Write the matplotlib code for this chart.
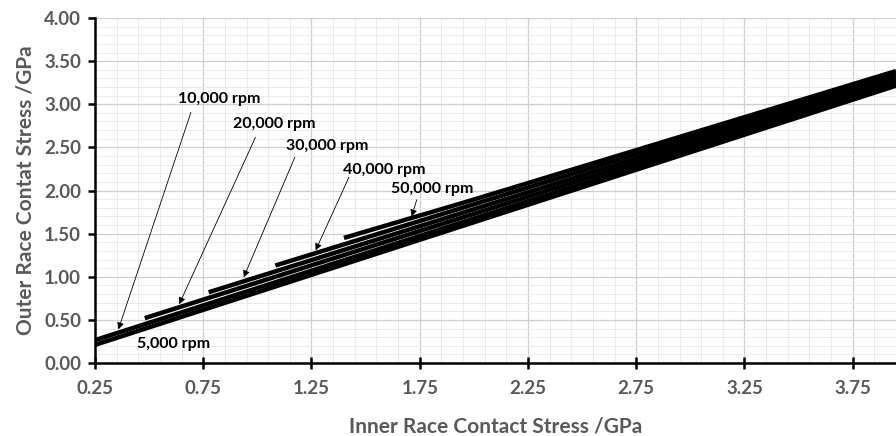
import matplotlib
matplotlib.use("Agg")
import matplotlib.pyplot as plt
from matplotlib.ticker import MultipleLocator, FormatStrFormatter

# Outer vs inner race contact stress (GPa) at several shaft speeds
speeds = ["5,000 rpm", "10,000 rpm", "20,000 rpm", "30,000 rpm", "40,000 rpm", "50,000 rpm"]
inner_5k = [0.25, 3.95]
outer_5k = [0.21, 3.215]
inner_10k = [0.25, 3.95]
outer_10k = [0.265, 3.245]
inner_20k = [0.48, 3.95]
outer_20k = [0.52, 3.28]
inner_30k = [0.775, 3.95]
outer_30k = [0.82, 3.315]
inner_40k = [1.083, 3.95]
outer_40k = [1.13, 3.35]
inner_50k = [1.40, 1.98, 3.95]
outer_50k = [1.45, 1.88, 3.385]

series = [(inner_5k, outer_5k), (inner_10k, outer_10k), (inner_20k, outer_20k),
          (inner_30k, outer_30k), (inner_40k, outer_40k), (inner_50k, outer_50k)]

# label text position, arrow tail, arrow head (data coordinates)
label_pos = [(0.611, 0.22), (0.824, 3.064), (1.079, 2.775), (1.324, 2.52), (1.588, 2.243), (1.806, 2.012)]
arrow_tail = [None, (0.693, 2.905), (0.991, 2.616), (1.173, 2.385), (1.423, 2.154), (1.736, 1.892)]
arrow_head = [None, (0.358, 0.39), (0.639, 0.682), (0.937, 0.994), (1.269, 1.306), (1.713, 1.699)]

x_ticks_major = [0.25, 0.75, 1.25, 1.75, 2.25, 2.75, 3.25, 3.75]

plt.rcParams['font.family'] = ['Lato', 'DejaVu Sans']

fig = plt.figure(figsize=(8.96, 4.36), dpi=100)
ax = fig.add_axes([95 / 896, 1 - 363 / 436, 1 - 95 / 896, (363 - 18) / 436])

for xs, ys in series:
    ax.plot(xs, ys, color='black', lw=3.2, solid_capstyle='butt', zorder=3)

ax.set_xlim(0.25, 3.95)
ax.set_ylim(0, 4.0)
ax.set_xticks(x_ticks_major)
ax.xaxis.set_minor_locator(MultipleLocator(0.1, offset=0.05))
ax.yaxis.set_major_locator(MultipleLocator(0.5))
ax.yaxis.set_minor_locator(MultipleLocator(0.1))
ax.xaxis.set_major_formatter(FormatStrFormatter('%.2f'))
ax.yaxis.set_major_formatter(FormatStrFormatter('%.2f'))

ax.grid(which='major', color='#cfcfcf', lw=0.9, zorder=0)
ax.grid(which='minor', color='#ebebeb', lw=0.7, zorder=0)
ax.set_axisbelow(True)

for s in ['top', 'right']:
    ax.spines[s].set_visible(False)
for s in ['left', 'bottom']:
    ax.spines[s].set_linewidth(1.8)
    ax.spines[s].set_color('black')

ax.tick_params(axis='x', which='major', direction='inout', length=8, width=1.8,
               labelsize=13.5, labelcolor='#595959', pad=8)
ax.tick_params(axis='y', which='major', direction='out', length=5, width=1.8,
               labelsize=13.5, labelcolor='#595959', pad=5)
ax.tick_params(which='minor', length=0)
for lab in ax.get_xticklabels() + ax.get_yticklabels():
    lab.set_fontweight('bold')

ax.set_xlabel('Inner Race Contact Stress /GPa', fontsize=15, fontweight='bold',
              color='#595959', labelpad=14)
ax.set_ylabel('Outer Race Contat Stress /GPa', fontsize=15, fontweight='bold',
              color='#595959', labelpad=6)

for name, pos, tail, head in zip(speeds, label_pos, arrow_tail, arrow_head):
    ax.text(pos[0], pos[1], name, ha='center', va='center', fontsize=11.5,
            fontweight='bold', color='black', zorder=5)
    if tail is not None:
        ax.annotate('', xy=head, xytext=tail,
                    arrowprops=dict(arrowstyle='-|>', color='black', lw=0.6,
                                    mutation_scale=10, shrinkA=0, shrinkB=0),
                    zorder=4)

fig.savefig('out.png', dpi=100)
